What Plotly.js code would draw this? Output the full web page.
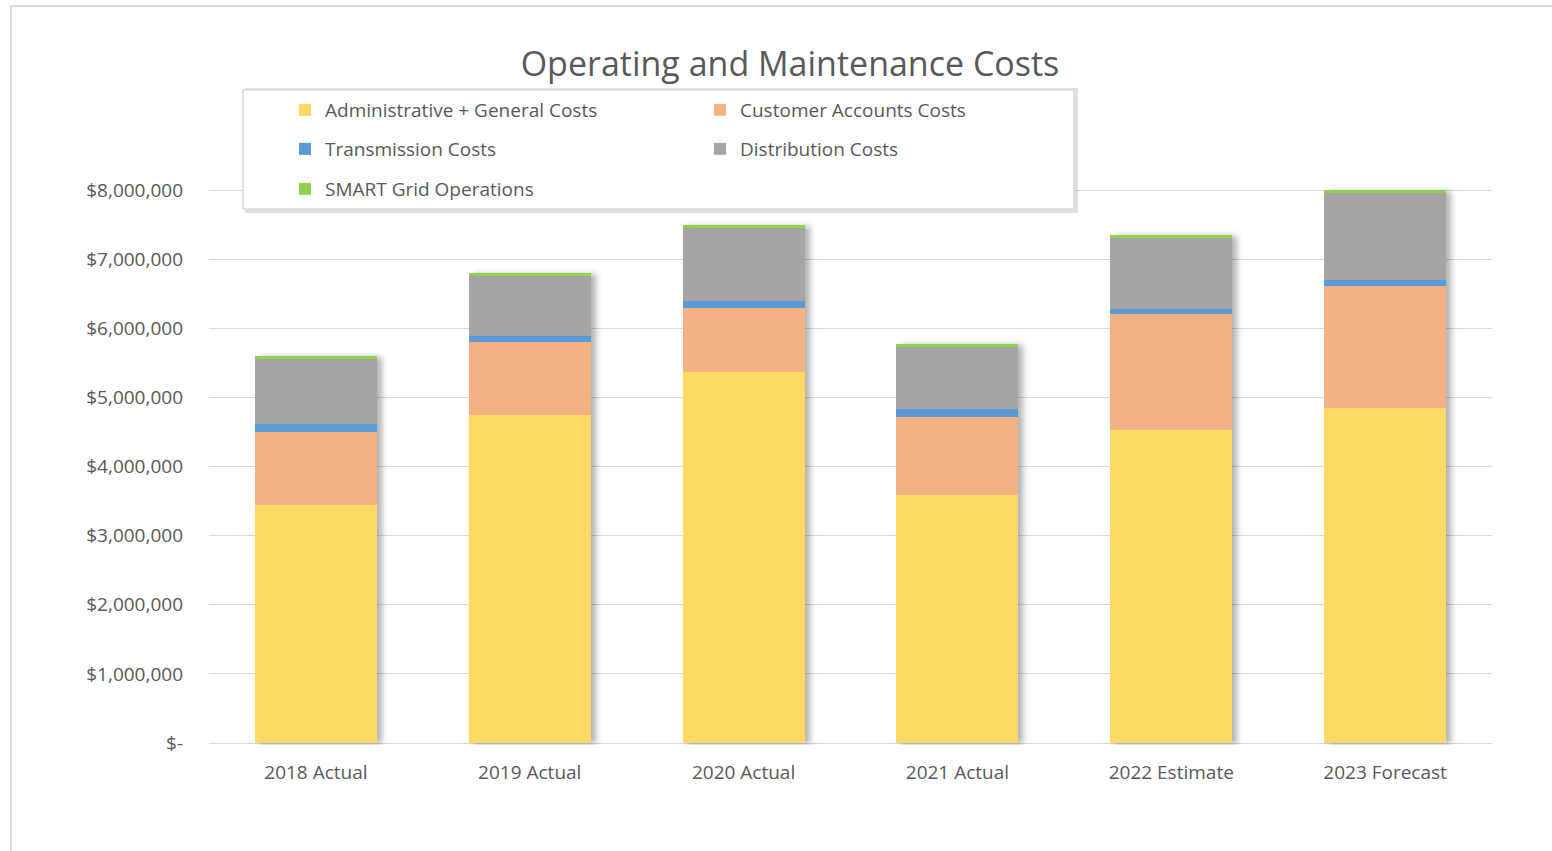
<!DOCTYPE html>
<html>
<head>
<meta charset="utf-8">
<script src="https://cdn.plot.ly/plotly-3.0.1.min.js"></script>
<style>
  html, body { margin: 0; padding: 0; background: #fff; }
  #wrap { position: relative; width: 1552px; height: 851px; overflow: hidden; }
  #frame { position: absolute; left: 10px; top: 5px; width: 1600px; height: 900px;
           border-left: 2px solid #d9d9d9; border-top: 2px solid #d9d9d9; box-sizing: border-box; pointer-events: none; }
  #chart { position: absolute; left: 0; top: 0; width: 1552px; height: 851px; }
  #chart g.barlayer { filter: drop-shadow(5px 1px 3px rgba(0,0,0,0.30)); }
</style>
</head>
<body>
<div id="wrap">
  <div id="chart"></div>
  <div id="frame"></div>
</div>
<script>
const categories = ["2018 Actual", "2019 Actual", "2020 Actual", "2021 Actual", "2022 Estimate", "2023 Forecast"];
const adminGeneral = [3443000, 4745000, 5367000, 3583000, 4528000, 4851000];
const customerAccounts = [1060000, 1052000, 922000, 1133000, 1683000, 1760000];
const transmission = [107000, 91000, 105000, 112000, 72000, 87000];
const distribution = [944000, 864000, 1056000, 896000, 1018000, 1259000];
const smartGrid = [44000, 43000, 44000, 48000, 44000, 43000];
const yTickVals = [0, 1000000, 2000000, 3000000, 4000000, 5000000, 6000000, 7000000, 8000000];
const yTickText = ["$-", "$1,000,000", "$2,000,000", "$3,000,000", "$4,000,000", "$5,000,000", "$6,000,000", "$7,000,000", "$8,000,000"];
const seriesNames = ["Administrative + General Costs", "Customer Accounts Costs", "Transmission Costs", "Distribution Costs", "SMART Grid Operations"];

const colors = ["#FFD966", "#F4B183", "#5B9BD5", "#A5A5A5", "#92D050"];
const values = [adminGeneral, customerAccounts, transmission, distribution, smartGrid];
const legendIds = ["legend", "legend2", "legend3", "legend4", "legend5"];

const traces = values.map((v, i) => ({
  type: "bar",
  name: seriesNames[i],
  x: categories,
  y: v,
  marker: { color: colors[i], line: { width: 0 } },
  legend: legendIds[i],
  hovertemplate: "%{x}<br>" + seriesNames[i] + ": $%{y:,.0f}<extra></extra>"
}));

// plot area: 0 at y=743px, 8M at y=190px; pad 2px each end so edge gridlines are kept
const W = 1552, H = 851, L = 209, R = 60, T = 188, B = 106;
const pw = W - L - R, ph = H - T - B;
const unitPerPx = 8000000 / 553;
const yMin = -2 * unitPerPx, yMax = 8000000 + 2 * unitPerPx;
const px = x => (x - L) / pw;
const py = y => (H - B - y) / ph;

const FONT = "Open Sans, sans-serif";
const legendFont = { family: FONT, size: 19, color: "#595959" };
function leg(xpx, ypx) {
  return { x: px(xpx), y: py(ypx), xanchor: "left", yanchor: "middle",
           orientation: "h", bgcolor: "rgba(0,0,0,0)", borderwidth: 0, font: legendFont,
           itemclick: false, itemdoubleclick: false };
}

const layout = {
  width: W, height: H,
  margin: { l: L, r: R, t: T, b: B, pad: 0 },
  paper_bgcolor: "#ffffff",
  plot_bgcolor: "#ffffff",
  barmode: "stack",
  bargap: 0.43,
  font: { family: FONT, color: "#595959" },
  title: {
    text: "Operating and Maintenance Costs",
    font: { family: FONT, size: 34, color: "#595959" },
    xref: "container", yref: "container",
    x: 790 / W, y: 1 - 64 / H, xanchor: "center", yanchor: "middle"
  },
  xaxis: {
    type: "category",
    showgrid: false, zeroline: false, showline: false,
    ticks: "",
    ticklabelstandoff: 14,
    tickfont: { family: FONT, size: 19, color: "#595959" }
  },
  yaxis: {
    range: [yMin, yMax],
    tickvals: yTickVals, ticktext: yTickText,
    showgrid: true, gridcolor: "#d9d9d9", gridwidth: 1.3,
    zeroline: false, showline: false, ticks: "",
    ticklabelstandoff: 25,
    tickfont: { family: FONT, size: 19, color: "#595959" }
  },
  showlegend: true,
  legend: leg(285, 110),
  legend2: leg(700, 110),
  legend3: leg(285, 149),
  legend4: leg(700, 149),
  legend5: leg(285, 189),
  shapes: [
    { type: "rect", xref: "paper", yref: "paper", layer: "above",
      x0: px(245), x1: px(1078), y0: py(213), y1: py(88),
      fillcolor: "rgba(0,0,0,0.12)", line: { width: 0 } },
    { type: "rect", xref: "paper", yref: "paper", layer: "above",
      x0: px(243), x1: px(1074), y0: py(209), y1: py(90),
      fillcolor: "#ffffff", line: { color: "#d9d9d9", width: 1.5 } }
  ]
};

Plotly.newPlot("chart", traces, layout, { displayModeBar: false });
</script>
</body>
</html>
